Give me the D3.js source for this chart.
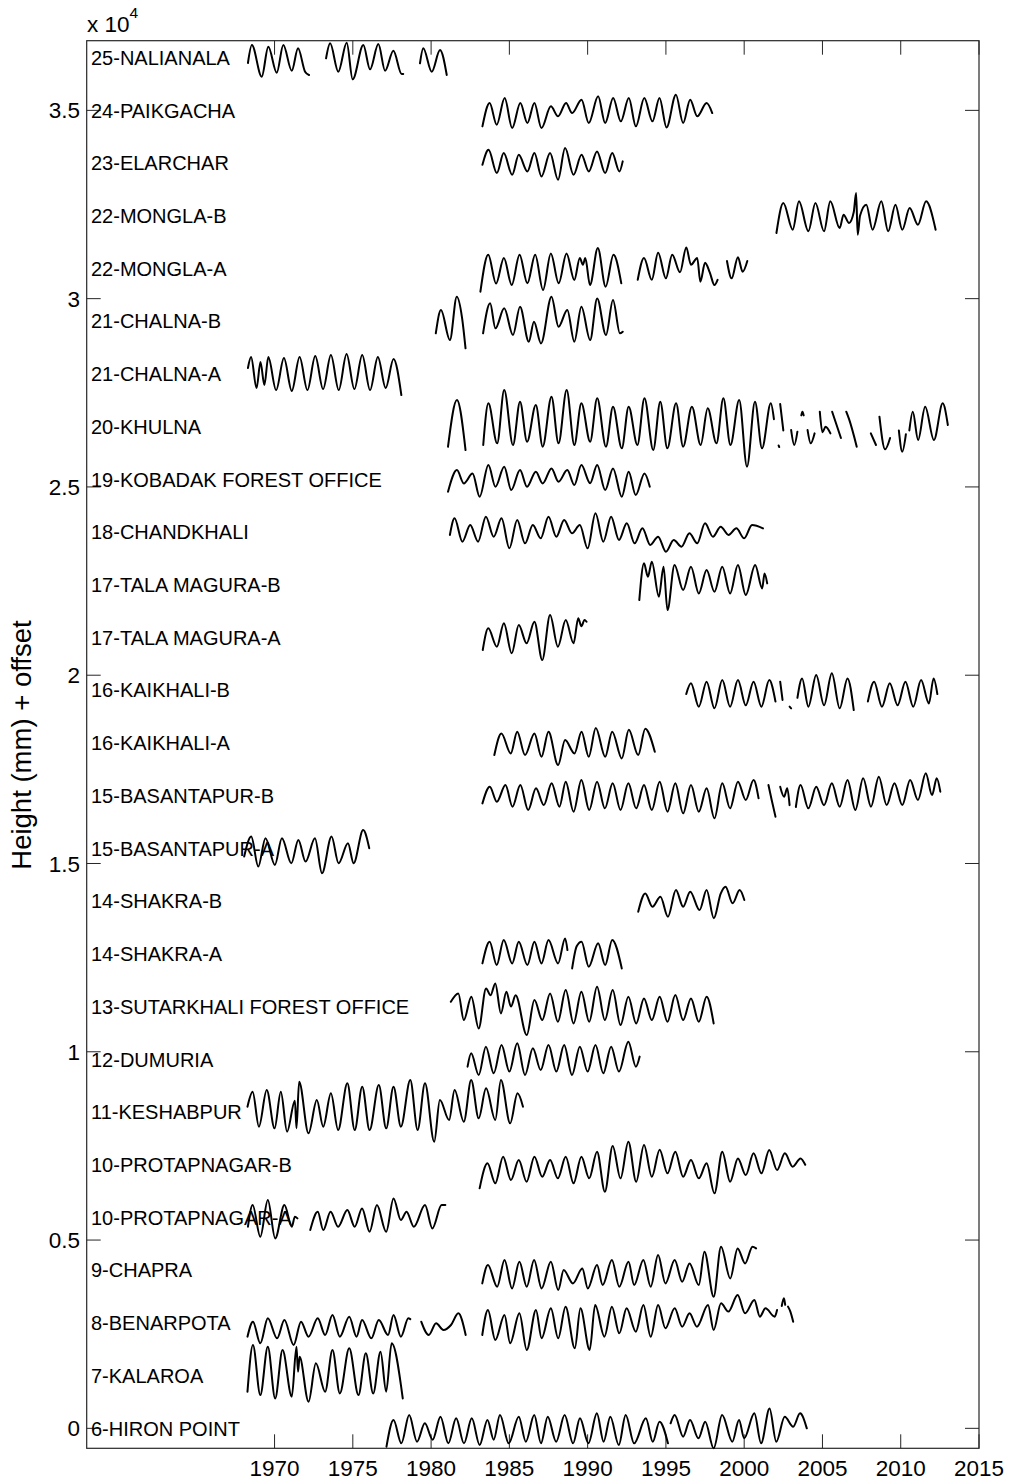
<!DOCTYPE html>
<html><head><meta charset="utf-8">
<script src="https://cdn.jsdelivr.net/npm/d3@7"></script>
<style>
body{margin:0;background:#fff}
svg{display:block}
text{font-family:"Liberation Sans",Arial,Helvetica,sans-serif;fill:#000}
</style>
</head><body>
<svg id="chart" width="1011" height="1484"></svg>
<script>
// ---------------- data ----------------
const stationNames = [
  "6-HIRON POINT","7-KALAROA","8-BENARPOTA","9-CHAPRA","10-PROTAPNAGAR-A","10-PROTAPNAGAR-B",
  "11-KESHABPUR","12-DUMURIA","13-SUTARKHALI FOREST OFFICE","14-SHAKRA-A","14-SHAKRA-B",
  "15-BASANTAPUR-A","15-BASANTAPUR-B","16-KAIKHALI-A","16-KAIKHALI-B","17-TALA MAGURA-A",
  "17-TALA MAGURA-B","18-CHANDKHALI","19-KOBADAK FOREST OFFICE","20-KHULNA","21-CHALNA-A",
  "21-CHALNA-B","22-MONGLA-A","22-MONGLA-B","23-ELARCHAR","24-PAIKGACHA","25-NALIANALA"
];
const offsetStep = 1400;               // mm between stations
const xTickValues = [1970,1975,1980,1985,1990,1995,2000,2005,2010,2015];
const yTickValues = [0,5000,10000,15000,20000,25000,30000,35000];
const yTickLabels = ["0","0.5","1","1.5","2","2.5","3","3.5"];
const xDomain = [1958, 2015];
const yDomain = [-530, 36850];

// each station: list of segments, each segment list of [year, height mm relative to offset]
const hironPoint = [
 [[1977.15,-487],[1977.6,221],[1978.1,-398],[1978.6,353],[1979.1,-354],[1979.6,133],[1980.1,-300],[1980.6,309],[1981.1,-398],[1981.6,265],[1982.1,-398],[1982.6,265],[1983.1,-442],[1983.6,221],[1984.0,-300],[1984.4,353],[1984.96,-398],[1985.6,309],[1986.05,-354],[1986.59,353],[1987.02,-398],[1987.45,309],[1987.99,-354],[1988.53,353],[1989.07,-398],[1989.51,265],[1990.05,-398],[1990.59,398],[1991.02,-354],[1991.45,309],[1991.99,-442],[1992.43,353],[1992.97,-398],[1993.72,265],[1994.16,-354],[1994.59,177],[1995.13,-398]],
 [[1995.3,133],[1995.56,353],[1996.1,-221],[1996.54,221],[1997.08,-265],[1997.51,177],[1998.05,-531],[1998.59,353],[1999.24,-354],[1999.67,221],[2000.0,-265],[2000.65,398],[2001.08,-398],[2001.62,530],[2002.05,-354],[2002.59,309],[2003.13,44],[2003.57,398],[2004.0,0]]
];
const kalaroa = [
 [[1968.27,-427],[1968.62,813],[1969.09,-516],[1969.57,768],[1970.04,-605],[1970.51,680],[1971.1,-560],[1971.4,768],[1971.5,104],[1971.6,500],[1972.17,-693],[1972.64,326],[1973.23,-427],[1973.7,680],[1974.17,-472],[1974.77,724],[1975.36,-516],[1975.83,591],[1976.3,-472],[1976.77,636],[1977.13,-427],[1977.48,857],[1978.19,-605]]
];
const benarpota = [
 [[1968.27,-365],[1968.62,33],[1969.09,-542],[1969.57,122],[1970.16,-409],[1970.63,77],[1971.22,-586],[1971.69,33],[1972.17,-365],[1972.76,122],[1973.23,-321],[1973.7,210],[1974.17,-365],[1974.77,166],[1975.24,-365],[1975.59,77],[1976.18,-409],[1976.66,77],[1977.25,-321],[1977.6,210],[1978.07,-365],[1978.55,122],[1978.67,100]],
 [[1979.37,33],[1979.85,-321],[1980.32,-11],[1980.79,-188],[1981.27,-55],[1981.74,254],[1982.21,-321]],
 [[1983.27,-321],[1983.63,343],[1984.1,-454],[1984.69,210],[1985.05,-542],[1985.64,254],[1986.11,-719],[1986.7,343],[1987.06,-409],[1987.65,387],[1988.12,-409],[1988.59,432],[1989.18,-675],[1989.54,387],[1990.13,-719],[1990.48,476],[1991.07,-365],[1991.55,432],[1992.02,-277],[1992.49,387],[1993.08,-232],[1993.56,476],[1994.03,-365],[1994.5,476],[1994.97,-144],[1995.56,387],[1996.04,-100],[1996.51,254],[1996.98,-100],[1997.69,476],[1998.05,-188],[1998.52,520],[1998.99,300],[1999.58,741],[2000.06,254],[2000.65,609],[2001.0,166],[2001.36,387],[2001.95,166],[2002.1,343]],
 [[2002.4,450],[2002.54,653],[2002.62,480]],
 [[2002.8,432],[2002.95,300],[2003.13,33]]
];
const chapra = [
 [[1983.27,-351],[1983.63,136],[1984.22,-439],[1984.69,268],[1985.17,-484],[1985.64,224],[1986.11,-439],[1986.58,268],[1987.06,-484],[1987.65,224],[1988.12,-528],[1988.47,3],[1989.06,-351],[1989.66,47],[1990.01,-484],[1990.6,136],[1990.96,-395],[1991.55,268],[1992.02,-439],[1992.61,224],[1992.97,-395],[1993.56,268],[1994.03,-439],[1994.5,401],[1994.97,-351],[1995.56,268],[1996.04,-307],[1996.51,180],[1997.1,-395],[1997.46,490],[1998.05,-705],[1998.52,622],[1999.11,-218],[1999.58,578],[2000.06,180],[2000.53,622],[2000.76,578]]
];
const protapnagarA = [
 [[1968.3,-246],[1968.6,329],[1969.09,-512],[1969.57,462],[1970.04,-556],[1970.63,329],[1971.1,-246],[1971.3,19],[1971.46,-25]],
 [[1972.28,-335],[1972.76,152],[1973.11,-335],[1973.58,152],[1974.06,-246],[1974.65,196],[1975.12,-246],[1975.59,241],[1976.07,-379],[1976.54,329],[1977.13,-379],[1977.6,506],[1978.07,-69],[1978.43,152],[1978.9,-246],[1979.61,329],[1980.08,-290],[1980.67,329],[1980.91,329]]
];
const protapnagarB = [
 [[1983.1,-627],[1983.6,37],[1984.1,-494],[1984.6,214],[1985.1,-406],[1985.6,125],[1986.1,-450],[1986.6,214],[1987.1,-317],[1987.6,125],[1988.1,-361],[1988.6,214],[1989.1,-494],[1989.6,214],[1990.1,-361],[1990.6,346],[1991.1,-715],[1991.6,500],[1992.1,-361],[1992.6,612],[1993.1,-450],[1993.6,524],[1994.1,-317],[1994.6,400],[1995.1,-229],[1995.6,346],[1996.1,-317],[1996.6,125],[1997.1,-361],[1997.6,37],[1998.1,-760],[1998.6,346],[1999.1,-450],[1999.6,169],[2000.1,-273],[2000.6,302],[2001.1,-229],[2001.6,391],[2002.1,-140],[2002.6,302],[2003.1,-52],[2003.6,169],[2003.9,0]]
];
const keshabpur = [
 [[1968.27,142],[1968.6,540],[1969.0,-389],[1969.5,584],[1970.0,-434],[1970.4,540],[1970.8,-522],[1971.3,300],[1971.4,-434],[1971.57,806],[1972.17,-566],[1972.7,319],[1973.11,-389],[1973.6,496],[1974.06,-478],[1974.65,762],[1975.12,-478],[1975.6,673],[1976.07,-478],[1976.66,717],[1977.13,-434],[1977.6,673],[1978.07,-389],[1978.67,850],[1979.14,-478],[1979.61,762],[1980.2,-788],[1980.56,319],[1981.15,-212],[1981.5,584],[1982.09,-257],[1982.56,850],[1983.04,-168],[1983.51,629],[1984.1,-212],[1984.46,850],[1985.05,-301],[1985.52,496],[1985.87,142]]
];
const dumuria = [
 [[1982.33,-195],[1982.56,159],[1983.04,-416],[1983.5,336],[1984.0,-372],[1984.5,380],[1985.0,-327],[1985.5,424],[1986.0,-416],[1986.5,292],[1987.0,-283],[1987.5,380],[1988.0,-327],[1988.5,380],[1989.0,-416],[1989.5,336],[1990.0,-327],[1990.5,380],[1991.0,-372],[1991.5,336],[1992.0,-327],[1992.6,468],[1993.08,-195],[1993.32,71]]
];
const sutarkhali = [
 [[1981.26,128],[1981.74,350],[1982.09,-359],[1982.57,261],[1983.04,-580],[1983.51,483],[1983.8,300],[1984.1,615],[1984.46,-181],[1984.81,394],[1985.1,0],[1985.4,300],[1986.11,-757],[1986.6,173],[1987.1,-359],[1987.6,350],[1988.1,-403],[1988.6,438],[1989.1,-447],[1989.6,394],[1990.1,-403],[1990.6,527],[1991.1,-359],[1991.6,438],[1992.1,-491],[1992.6,261],[1993.1,-447],[1993.6,217],[1994.1,-359],[1994.6,261],[1995.1,-403],[1995.6,305],[1996.1,-359],[1996.6,217],[1997.1,-403],[1997.6,261],[1998.05,-447]]
];
const shakraA = [
 [[1983.28,-253],[1983.74,323],[1984.19,-297],[1984.64,367],[1985.18,-253],[1985.6,323],[1986.15,-297],[1986.6,323],[1987.05,-253],[1987.5,367],[1988.11,-253],[1988.56,411],[1988.71,100]],
 [[1989.01,-386],[1989.3,200],[1989.61,323],[1990.07,-341],[1990.67,279],[1991.12,-297],[1991.57,367],[1992.18,-386]]
];
const shakraB = [
 [[1993.23,-280],[1993.68,206],[1994.14,-147],[1994.65,118],[1995.13,-413],[1995.64,295],[1996.1,-147],[1996.55,250],[1997.15,-236],[1997.6,295],[1998.06,-457],[1998.5,200],[1998.81,383],[1999.26,-59],[1999.71,295],[2000.01,30]]
];
const basantapurA = [
 [[1968.06,-217],[1968.51,314],[1968.96,-482],[1969.42,270],[1970.02,-438],[1970.47,270],[1971.07,-394],[1971.52,226],[1971.98,-349],[1972.58,270],[1973.03,-659],[1973.64,314],[1974.09,-394],[1974.69,137],[1975.05,-394],[1975.66,491],[1976.05,5]]
];
const basantapurB = [
 [[1983.28,-203],[1983.75,240],[1984.2,-159],[1984.75,284],[1985.2,-291],[1985.7,284],[1986.2,-380],[1986.7,195],[1987.2,-247],[1987.7,329],[1988.2,-291],[1988.6,373],[1989.1,-424],[1989.6,417],[1990.1,-380],[1990.6,373],[1991.1,-336],[1991.6,329],[1992.1,-380],[1992.6,329],[1993.1,-336],[1993.6,284],[1994.1,-380],[1994.6,373],[1995.1,-424],[1995.6,329],[1996.1,-469],[1996.6,284],[1997.1,-424],[1997.6,195],[1998.1,-601],[1998.6,329],[1999.1,-336],[1999.6,373],[2000.1,-114],[2000.6,417],[2000.92,-70]],
 [[2001.55,284],[2001.75,-100],[2002.0,-557]],
 [[2002.3,240],[2002.55,-25],[2002.75,200],[2002.9,-250]],
 [[2003.3,-300],[2003.6,284],[2004.1,-336],[2004.6,240],[2005.1,-250],[2005.6,329],[2006.1,-291],[2006.6,417],[2007.1,-380],[2007.6,461],[2008.1,-291],[2008.6,505],[2009.1,-247],[2009.6,329],[2010.1,-247],[2010.6,417],[2011.1,-114],[2011.6,594],[2012.0,18],[2012.3,461],[2012.53,107]]
];
const kaikhaliA = [
 [[1984.04,-321],[1984.49,250],[1985.09,-277],[1985.5,300],[1986.0,-321],[1986.6,250],[1987.05,-365],[1987.5,300],[1988.11,-587],[1988.56,77],[1989.16,-277],[1989.61,300],[1990.07,-365],[1990.52,400],[1991.12,-365],[1991.57,300],[1992.18,-410],[1992.63,350],[1993.23,-321],[1993.68,380],[1994.29,-233]]
];
const kaikhaliB = [
 [[1996.3,-100],[1996.6,184],[1997.1,-435],[1997.6,228],[1998.1,-480],[1998.6,272],[1999.1,-435],[1999.6,272],[2000.1,-400],[2000.6,228],[2001.1,-435],[2001.6,272],[2002.0,-300]],
 [[2002.3,228],[2002.45,-258]],
 [[2002.9,-435],[2003.0,-480]],
 [[2003.4,-200],[2003.7,316],[2004.1,-435],[2004.6,405],[2005.1,-400],[2005.6,449],[2006.1,-480],[2006.6,316],[2007.0,-524]],
 [[2007.9,-300],[2008.3,228],[2008.8,-435],[2009.3,184],[2009.8,-400],[2010.3,228],[2010.8,-435],[2011.3,272],[2011.8,-350],[2012.1,316],[2012.34,-100]]
];
const talaMaguraA = [
 [[1983.3,-330],[1983.65,245],[1984.2,-242],[1984.65,378],[1985.15,-419],[1985.6,334],[1986.1,-153],[1986.6,422],[1987.1,-596],[1987.6,599],[1988.1,-242],[1988.6,467],[1989.1,-153],[1989.4,511],[1989.6,300],[1989.8,467],[1989.93,420]]
];
const talaMaguraB = [
 [[1993.3,-404],[1993.6,570],[1993.85,216],[1994.1,614],[1994.55,-316],[1994.85,482],[1995.1,-670],[1995.55,526],[1996.1,-138],[1996.6,482],[1997.1,-227],[1997.6,393],[1998.1,-183],[1998.6,482],[1999.1,-227],[1999.6,526],[2000.1,-271],[2000.7,526],[2001.15,-94],[2001.3,300],[2001.47,39]]
];
const chandkhali = [
 [[1981.2,-76],[1981.5,366],[1982.0,-253],[1982.5,189],[1983.0,-253],[1983.5,410],[1984.0,-121],[1984.5,366],[1985.0,-431],[1985.5,321],[1986.0,-298],[1986.5,189],[1987.0,-165],[1987.5,410],[1988.0,-121],[1988.5,321],[1989.0,-32],[1989.5,189],[1990.0,-431],[1990.5,498],[1991.0,-253],[1991.5,410],[1992.0,-209],[1992.5,233],[1993.0,-298],[1993.5,100],[1994.0,-342],[1994.5,-121],[1995.0,-519],[1995.5,-209],[1996.0,-386],[1996.5,-32],[1997.0,-298],[1997.5,233],[1998.0,-121],[1998.5,144],[1999.0,-76],[1999.5,100],[2000.0,-165],[2000.5,189],[2001.2,100]]
];
const kobadak = [
 [[1981.08,-328],[1981.65,248],[1982.09,-106],[1982.65,159],[1983.1,-460],[1983.66,381],[1984.11,-195],[1984.67,336],[1985.12,-283],[1985.68,248],[1986.13,-195],[1986.69,204],[1987.13,-106],[1987.69,292],[1988.14,-62],[1988.7,248],[1989.15,-151],[1989.6,381],[1990.16,-100],[1990.61,381],[1991.12,-283],[1991.62,292],[1992.18,-460],[1992.62,204],[1993.07,-416],[1993.63,159],[1993.97,-195]]
];
const khulna = [
 [[1981.08,-533],[1981.65,707],[1982.2,-621]],
 [[1983.33,-487],[1983.66,619],[1984.22,-443],[1984.67,973],[1985.23,-487],[1985.68,664],[1986.13,-398],[1986.69,575],[1987.13,-531],[1987.69,796],[1988.14,-443],[1988.66,973],[1989.15,-487],[1989.6,619],[1990.16,-398],[1990.61,752],[1991.17,-531],[1991.62,531],[1992.18,-575],[1992.62,531],[1993.18,-487],[1993.63,752],[1994.19,-620],[1994.64,664],[1995.09,-575],[1995.65,619],[1996.1,-531],[1996.66,531],[1997.22,-487],[1997.67,487],[1998.23,-443],[1998.67,752],[1999.12,-487],[1999.68,708],[2000.18,-1062],[2000.69,664],[2001.14,-575],[2001.7,619],[2001.9,200]],
 [[2002.3,600],[2002.5,-100]],
 [[2002.2,-500],[2002.24,-540]],
 [[2003.0,-89],[2003.2,-487],[2003.4,-133]],
 [[2003.65,300],[2003.72,398],[2003.8,300]],
 [[2004.05,-89],[2004.25,-443],[2004.5,-177]],
 [[2004.83,398],[2005.0,-150],[2005.2,0],[2005.51,-177]],
 [[2005.62,398],[2006.18,-300]],
 [[2006.52,398],[2006.7,200],[2007.19,-531]],
 [[2008.09,-177],[2008.42,-487]],
 [[2008.64,265],[2009.0,-600],[2009.32,-300]],
 [[2009.88,-100],[2010.1,-664],[2010.33,-200]],
 [[2010.55,-100],[2010.77,398],[2011.11,-354],[2011.56,531],[2012.12,-354],[2012.68,619],[2013.01,44]]
];
const chalnaA = [
 [[1968.3,157],[1968.5,449],[1968.85,-374],[1969.1,316],[1969.35,-295],[1969.6,449],[1970.1,-428],[1970.6,422],[1971.1,-451],[1971.6,449],[1972.1,-428],[1972.6,475],[1973.1,-401],[1973.6,502],[1974.1,-428],[1974.6,528],[1975.1,-401],[1975.6,502],[1976.1,-428],[1976.6,449],[1977.1,-374],[1977.6,396],[1978.1,-560]]
];
const chalnaB = [
 [[1980.3,-321],[1980.63,297],[1981.2,-499],[1981.64,651],[1981.98,85],[1982.2,-720]],
 [[1983.32,-321],[1983.77,475],[1984.11,-189],[1984.67,342],[1985.23,-367],[1985.68,385],[1986.24,-544],[1986.57,-13],[1987.02,-588],[1987.69,651],[1988.14,-146],[1988.7,297],[1989.15,-544],[1989.6,385],[1990.16,-499],[1990.61,607],[1991.17,-367],[1991.62,563],[1992.06,-322],[1992.24,-278]]
];
const mongaA = [
 [[1983.15,-616],[1983.65,367],[1984.15,-400],[1984.65,279],[1985.15,-438],[1985.65,367],[1986.15,-394],[1986.65,367],[1987.15,-571],[1987.65,400],[1988.15,-394],[1988.65,400],[1989.15,-305],[1989.5,279],[1989.7,100],[1989.85,279],[1990.15,-438],[1990.65,545],[1991.15,-483],[1991.65,367],[1992.15,-394]],
 [[1993.2,-300],[1993.6,279],[1994.1,-300],[1994.5,420],[1995.0,-260],[1995.4,367],[1995.9,-100],[1996.3,560],[1996.6,100],[1997.0,280],[1997.2,-350],[1997.5,150],[1997.8,-100],[1998.1,-438],[1998.3,-300]],
 [[1998.9,200],[1999.2,-260],[1999.6,300],[1999.9,-85],[2000.2,200]]
];
const mongaB = [
 [[2002.06,-457],[2002.5,340],[2003.1,-369],[2003.5,385],[2004.1,-412],[2004.55,340],[2005.1,-412],[2005.5,385],[2006.1,-324],[2006.35,29],[2006.7,-191],[2007.0,100],[2007.15,606],[2007.25,-502],[2007.4,0],[2007.8,295],[2008.2,-369],[2008.76,385],[2009.2,-412],[2009.66,295],[2010.1,-369],[2010.57,207],[2011.1,-236],[2011.62,385],[2012.23,-369]]
];
const elarchar = [
 [[1983.28,-45],[1983.67,353],[1984.2,-266],[1984.64,266],[1985.18,-310],[1985.6,221],[1986.15,-221],[1986.6,266],[1987.05,-354],[1987.6,266],[1988.11,-443],[1988.56,398],[1989.1,-310],[1989.61,221],[1990.07,-221],[1990.6,310],[1991.12,-266],[1991.57,266],[1992.03,-221],[1992.24,45]]
];
const paikgacha = [
 [[1983.28,-425],[1983.74,194],[1984.19,-382],[1984.7,327],[1985.18,-470],[1985.7,194],[1986.15,-337],[1986.6,194],[1987.05,-470],[1987.65,106],[1988.11,-159],[1988.62,194],[1989.01,-72],[1989.61,282],[1990.07,-337],[1990.67,372],[1991.12,-337],[1991.63,327],[1992.12,-292],[1992.63,327],[1993.08,-425],[1993.62,327],[1994.14,-292],[1994.59,327],[1995.04,-452],[1995.64,414],[1996.1,-337],[1996.55,282],[1997.0,-159],[1997.6,194],[1997.96,-72]]
];
const nalianala = [
 [[1968.3,-143],[1968.55,335],[1969.18,-507],[1969.6,290],[1970.14,-401],[1970.56,335],[1971.1,-348],[1971.5,247],[1971.95,-374],[1972.2,-462]],
 [[1973.29,-19],[1973.55,380],[1974.07,-374],[1974.61,396],[1974.99,-576],[1975.67,335],[1976.1,-311],[1976.63,361],[1977.06,-348],[1977.59,183],[1978.12,-436],[1978.22,-436]],
 [[1979.29,-151],[1979.5,247],[1980.04,-374],[1980.57,202],[1981.0,-462]]
];

const seriesData = [hironPoint,kalaroa,benarpota,chapra,protapnagarA,protapnagarB,keshabpur,dumuria,
  sutarkhali,shakraA,shakraB,basantapurA,basantapurB,kaikhaliA,kaikhaliB,talaMaguraA,talaMaguraB,
  chandkhali,kobadak,khulna,chalnaA,chalnaB,mongaA,mongaB,elarchar,paikgacha,nalianala];

// ---------------- drawing ----------------
const L = 86.7, R = 979, T = 40.7, B = 1448.3;
const svg = d3.select("#chart");
const x = d3.scaleLinear().domain(xDomain).range([L, R]);
const y = d3.scaleLinear().domain(yDomain).range([B, T]);
const tickLen = 14;
const axisColor = "#262626";

// ticks (inward, all four sides)
const gT = svg.append("g");
gT.selectAll(".xb").data(xTickValues).join("line")
  .attr("x1", d => x(d)).attr("x2", d => x(d)).attr("y1", B).attr("y2", B - tickLen)
  .attr("stroke", axisColor).attr("stroke-width", 1);
gT.selectAll(".xt").data(xTickValues).join("line")
  .attr("x1", d => x(d)).attr("x2", d => x(d)).attr("y1", T).attr("y2", T + tickLen)
  .attr("stroke", axisColor).attr("stroke-width", 1);
gT.selectAll(".yl").data(yTickValues).join("line")
  .attr("x1", L).attr("x2", L + tickLen).attr("y1", d => y(d)).attr("y2", d => y(d))
  .attr("stroke", axisColor).attr("stroke-width", 1);
gT.selectAll(".yr").data(yTickValues).join("line")
  .attr("x1", R).attr("x2", R - tickLen).attr("y1", d => y(d)).attr("y2", d => y(d))
  .attr("stroke", axisColor).attr("stroke-width", 1);

// box
svg.append("rect").attr("x", L).attr("y", T).attr("width", R - L).attr("height", B - T)
  .attr("fill", "none").attr("stroke", axisColor).attr("stroke-width", 1.2);

// tick labels
svg.selectAll(".xl").data(xTickValues).join("text")
  .attr("x", d => x(d)).attr("y", 1476).attr("text-anchor", "middle")
  .attr("font-size", 22.5).text(d => d);
svg.selectAll(".ylab").data(yTickValues).join("text")
  .attr("x", 80).attr("y", d => y(d)).attr("dy", "0.36em").attr("text-anchor", "end")
  .attr("font-size", 22.5).text((d, i) => yTickLabels[i]);

// exponent
const ex = svg.append("text").attr("x", 87).attr("y", 32).attr("font-size", 22.5);
ex.append("tspan").text("x 10");
ex.append("tspan").attr("dy", -14).attr("font-size", 15.5).text("4");

// y label
svg.append("text").attr("transform", "translate(31,745) rotate(-90)")
  .attr("text-anchor", "middle").attr("font-size", 27.5).text("Height (mm) + offset");

// station labels
svg.selectAll(".sn").data(stationNames).join("text")
  .attr("x", 91).attr("y", (d, i) => y(i * offsetStep)).attr("dy", "0.36em")
  .attr("font-size", 20).text(d => d);

// series lines
const line = d3.line().x(d => x(d[0])).y(d => d.yy).curve(d3.curveMonotoneX);
const gL = svg.append("g");
seriesData.forEach((segs, i) => {
  const off = i * offsetStep;
  segs.forEach(seg => {
    const pts = seg.map(p => { const o = [p[0], p[1]]; o.yy = y(off + p[1]); return o; });
    gL.append("path").attr("d", line(pts)).attr("fill", "none")
      .attr("stroke", "#000").attr("stroke-width", 2)
      .attr("stroke-linejoin", "round").attr("stroke-linecap", "round");
  });
});
</script>
</body></html>
